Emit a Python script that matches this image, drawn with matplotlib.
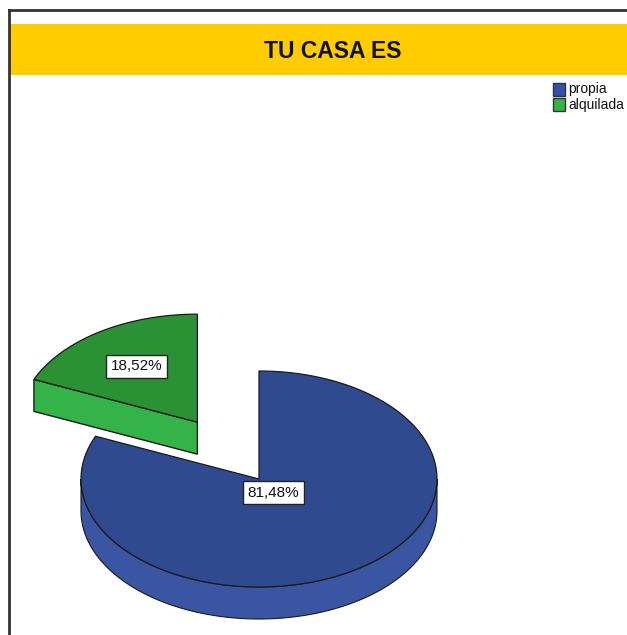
import numpy as np
import matplotlib
matplotlib.use("Agg")
import matplotlib.pyplot as plt
from matplotlib.patches import Polygon, Rectangle

plt.rcParams['font.family'] = ['Liberation Sans Narrow', 'Liberation Sans', 'DejaVu Sans']

# datos
categorias = ["propia", "alquilada"]
porcentajes = [81.48, 18.52]
etiquetas = ["81,48%", "18,52%"]
titulo = "TU CASA ES"

col_tapa = ["#2f4a8f", "#2a9234"]
col_lado = ["#3a56a3", "#34b349"]
col_leyenda = ["#3550a8", "#34b349"]
explotar = [0.0, 0.63]
pos_etiqueta = [0.15, 0.62]

# geometria del pastel (pixeles)
cx, cy = 259, 479
rx, ry = 178, 108
prof = 32


def punto(x0, y0, ang):
    a = np.radians(ang)
    return x0 + rx * np.cos(a), y0 - ry * np.sin(a)


def arco(x0, y0, a1, a2, n=120):
    angs = np.linspace(a1, a2, n)
    xs = x0 + rx * np.cos(np.radians(angs))
    ys = y0 - ry * np.sin(np.radians(angs))
    return np.column_stack([xs, ys])


fig = plt.figure(figsize=(6.27, 6.35), dpi=100)
ax = fig.add_axes([0, 0, 1, 1])
ax.set_xlim(0, 627)
ax.set_ylim(635, 0)
ax.axis("off")

# marco y banda del titulo
ax.add_patch(Rectangle((10, 24), 617, 51, color="#ffcc00", lw=0))
ax.plot([9, 9], [10, 635], color="#333333", lw=2)
ax.plot([9, 627], [10, 10], color="#333333", lw=2)
ax.text(333, 52, titulo, ha="center", va="center", fontsize=16.5,
        fontweight="bold", color="#111111")

# angulos de cada porcion (sentido horario desde las 12)
inicio = 90.0
porciones = []
for i, p in enumerate(porcentajes):
    barrido = 360.0 * p / sum(porcentajes)
    a_fin = inicio
    a_ini = inicio - barrido
    medio = (a_ini + a_fin) / 2
    dx = explotar[i] * rx * np.cos(np.radians(medio))
    dy = -explotar[i] * ry * np.sin(np.radians(medio))
    porciones.append((a_ini, a_fin, medio, cx + dx, cy + dy))
    inicio = a_ini

borde = "#1a1a1a"

for i, (a_ini, a_fin, medio, x0, y0) in enumerate(porciones):
    # pared exterior visible (parte frontal)
    lo = max(a_ini, -180)
    hi = min(a_fin, 0)
    if hi > lo:
        sup = arco(x0, y0, lo, hi)
        inf = sup[::-1] + [0, prof]
        ax.add_patch(Polygon(np.vstack([sup, inf]), closed=True,
                             facecolor=col_lado[i], edgecolor=borde, lw=0.8))
    # caras de corte visibles
    for a, normal in ((a_ini, a_ini - 90), (a_fin, a_fin + 90)):
        if np.sin(np.radians(normal)) < -0.01:
            px, py = punto(x0, y0, a)
            cara = [(x0, y0), (px, py), (px, py + prof), (x0, y0 + prof)]
            ax.add_patch(Polygon(cara, closed=True, facecolor=col_lado[i],
                                 edgecolor=borde, lw=1))
    # tapa superior
    tapa = np.vstack([[x0, y0], arco(x0, y0, a_ini, a_fin), [x0, y0]])
    ax.add_patch(Polygon(tapa, closed=True, facecolor=col_tapa[i],
                         edgecolor=borde, lw=0.9))

# etiquetas
for i, (a_ini, a_fin, medio, x0, y0) in enumerate(porciones):
    f = pos_etiqueta[i]
    lx = x0 + f * rx * np.cos(np.radians(medio))
    ly = y0 - f * ry * np.sin(np.radians(medio))
    ax.text(lx, ly, etiquetas[i], ha="center", va="center", fontsize=11,
            color="#111111",
            bbox=dict(boxstyle="square,pad=0.3", facecolor="white",
                      edgecolor="#222222", lw=1))

# leyenda
for i, cat in enumerate(categorias):
    y = 83 + i * 15
    ax.add_patch(Rectangle((553, y), 12, 13, facecolor=col_leyenda[i],
                           edgecolor="#333333", lw=1))
    ax.text(568, y + 6.5, cat, ha="left", va="center", fontsize=10,
            color="#111111")

fig.savefig("out.png", dpi=100)
